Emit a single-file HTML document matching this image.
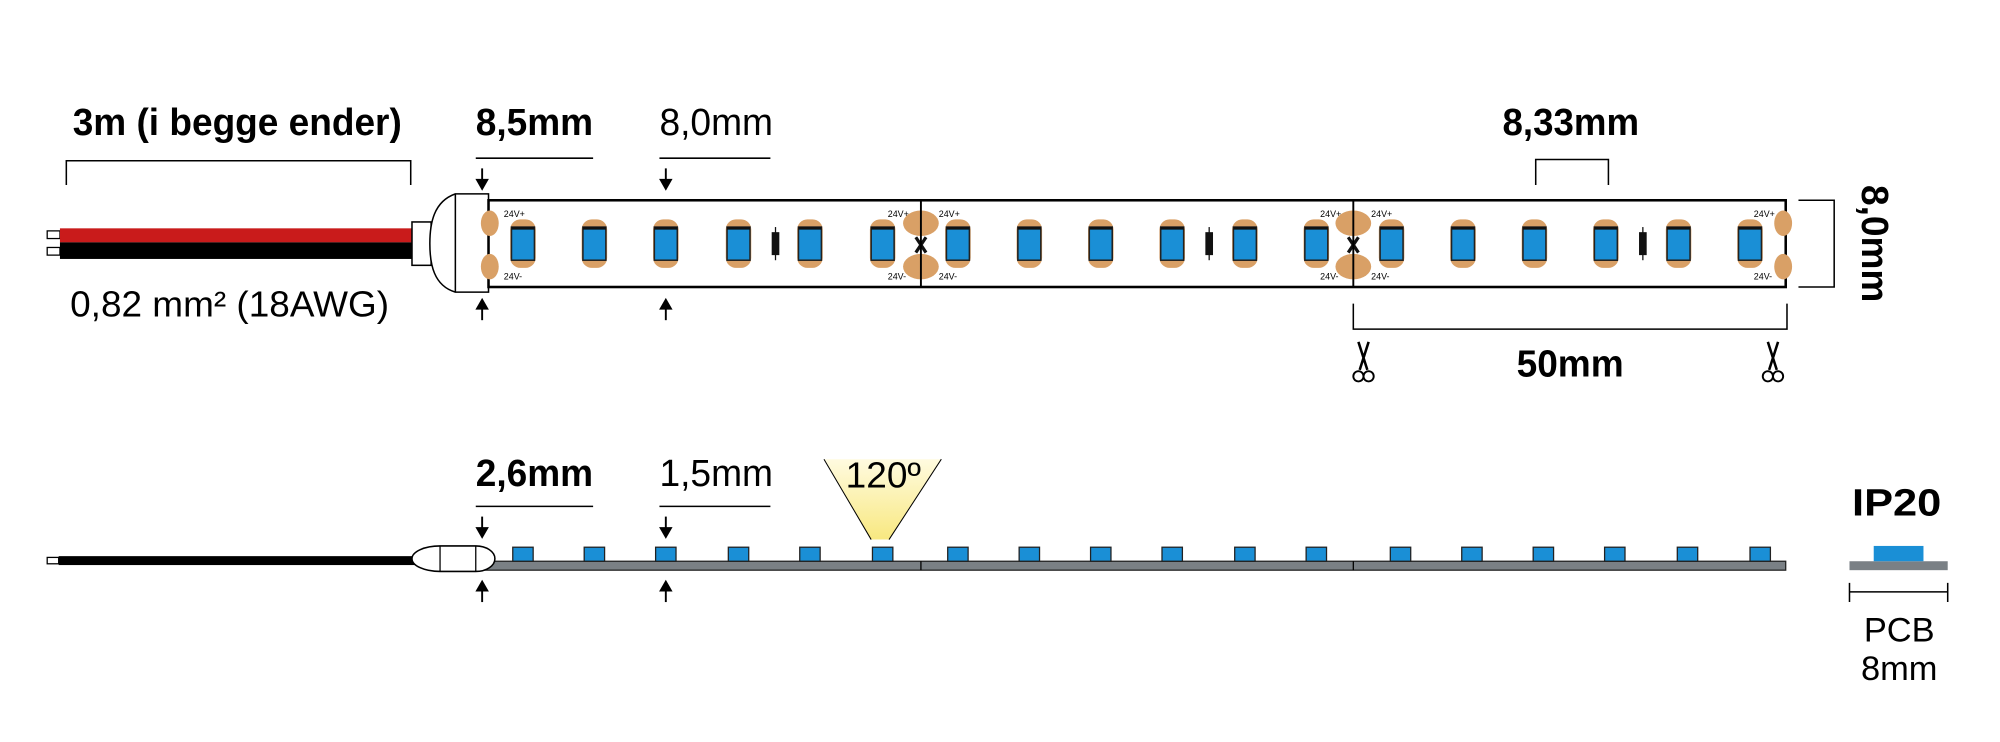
<!DOCTYPE html>
<html><head><meta charset="utf-8"><style>
html,body{margin:0;padding:0;background:#fff;}
svg{display:block;}
text{font-family:"Liberation Sans",sans-serif;fill:#000;}
.b{font-weight:bold;}
</style></head><body>
<svg width="2000" height="742" viewBox="0 0 1568 581.7" xmlns="http://www.w3.org/2000/svg">
<defs>
<g id="led">
<rect x="-10" y="172" width="20" height="38" rx="8" fill="#d9a066"/>
<rect x="-9" y="178" width="18" height="26" fill="#1a8fd6" stroke="#222" stroke-width="1.2"/>
<line x1="-9" y1="179" x2="9" y2="179" stroke="#111" stroke-width="2"/>
</g>
<g id="res">
<line x1="0" y1="178" x2="0" y2="204" stroke="#111" stroke-width="1"/>
<rect x="-3" y="182" width="6" height="18" fill="#111"/>
</g>
<g id="pads">
<ellipse cx="0" cy="175" rx="14" ry="10" fill="#d9a066"/>
<ellipse cx="0" cy="209" rx="14" ry="10" fill="#d9a066"/>
<text x="-26" y="170" font-size="7">24V+</text>
<text x="-26" y="219" font-size="7">24V-</text>
<text x="14" y="170" font-size="7">24V+</text>
<text x="14" y="219" font-size="7">24V-</text>
<path d="M-4,186 L4,198 M4,186 L-4,198" stroke="#111" stroke-width="2.5"/>
</g>
<g id="bled">
<rect x="-8" y="429" width="16" height="11" fill="#1a8fd6" stroke="#222" stroke-width="1"/>
</g>
<g id="sc">
<path d="M-4,0 L3,22 M4,0 L-3,22" stroke="#000" stroke-width="2" fill="none"/>
<circle cx="-4" cy="27" r="4" fill="none" stroke="#000" stroke-width="1.5"/>
<circle cx="4" cy="27" r="4" fill="none" stroke="#000" stroke-width="1.5"/>
</g>
<linearGradient id="yg" x1="0" y1="0" x2="0" y2="1">
<stop offset="0" stop-color="#fffbe0"/><stop offset="1" stop-color="#f8e880"/>
</linearGradient>
</defs>

<text x="57" y="106" font-size="30" class="b" textLength="258" lengthAdjust="spacingAndGlyphs">3m (i begge ender)</text>
<path d="M52,145 V126 H322 V145" fill="none" stroke="#000" stroke-width="1.2"/>
<text x="373" y="106" font-size="30" class="b" textLength="92" lengthAdjust="spacingAndGlyphs">8,5mm</text>
<line x1="373" y1="124" x2="465" y2="124" stroke="#000" stroke-width="1.2"/>
<text x="517" y="106" font-size="30" textLength="89" lengthAdjust="spacingAndGlyphs">8,0mm</text>
<line x1="517" y1="124" x2="604" y2="124" stroke="#000" stroke-width="1.2"/>
<text x="1178" y="106" font-size="30" class="b" textLength="107" lengthAdjust="spacingAndGlyphs">8,33mm</text>
<path d="M1204,145 V125 H1261 V145" fill="none" stroke="#000" stroke-width="1.2"/>
<text x="55" y="248" font-size="28" textLength="250" lengthAdjust="spacingAndGlyphs">0,82 mm² (18AWG)</text>

<g stroke="#000" stroke-width="1.5" fill="#000">
<line x1="378" y1="132" x2="378" y2="142"/><path d="M374,141 L382,141 L378,148Z"/>
<line x1="378" y1="241" x2="378" y2="251"/><path d="M374,242 L382,242 L378,235Z"/>
<line x1="522" y1="132" x2="522" y2="142"/><path d="M518,141 L526,141 L522,148Z"/>
<line x1="522" y1="241" x2="522" y2="251"/><path d="M518,242 L526,242 L522,235Z"/>
</g>

<rect x="37" y="181" width="10" height="6" fill="#fff" stroke="#000" stroke-width="1"/>
<rect x="37" y="194" width="10" height="6" fill="#fff" stroke="#000" stroke-width="1"/>
<rect x="47" y="179" width="276" height="11" fill="#c91b1b"/>
<rect x="47" y="190" width="276" height="13" fill="#000"/>
<rect x="323" y="174" width="15" height="34" fill="#fff" stroke="#000" stroke-width="1.2"/>
<path d="M383,152 H357 C340,158 337,175 337,191 C337,207 340,224 357,229 H383 Z" fill="#fff" stroke="#000" stroke-width="1.2"/>
<line x1="357" y1="152" x2="357" y2="229" stroke="#000" stroke-width="1.2"/>

<rect x="383" y="157" width="1017" height="68" fill="#fff" stroke="#000" stroke-width="2"/>
<ellipse cx="384" cy="175" rx="7" ry="10" fill="#d9a066"/>
<ellipse cx="384" cy="209" rx="7" ry="10" fill="#d9a066"/>
<text x="395" y="170" font-size="7">24V+</text><text x="395" y="219" font-size="7">24V-</text>
<ellipse cx="1398" cy="175" rx="7" ry="10" fill="#d9a066"/>
<ellipse cx="1398" cy="209" rx="7" ry="10" fill="#d9a066"/>
<text x="1375" y="170" font-size="7">24V+</text><text x="1375" y="219" font-size="7">24V-</text>
<use href="#pads" x="722"/><use href="#pads" x="1061"/>
<line x1="722" y1="157" x2="722" y2="225" stroke="#000" stroke-width="1.5"/>
<line x1="1061" y1="157" x2="1061" y2="225" stroke="#000" stroke-width="1.5"/>
<use href="#led" x="410"/><use href="#led" x="466"/><use href="#led" x="522"/><use href="#led" x="579"/><use href="#led" x="635"/><use href="#led" x="692"/>
<use href="#res" x="608"/>
<use href="#led" x="751"/><use href="#led" x="807"/><use href="#led" x="863"/><use href="#led" x="919"/><use href="#led" x="976"/><use href="#led" x="1032"/>
<use href="#res" x="948"/>
<use href="#led" x="1091"/><use href="#led" x="1147"/><use href="#led" x="1203"/><use href="#led" x="1259"/><use href="#led" x="1316"/><use href="#led" x="1372"/>
<use href="#res" x="1288"/>

<path d="M1410,157 H1438 V225 H1410" fill="none" stroke="#000" stroke-width="1.2"/>
<text transform="translate(1460,191) rotate(90)" font-size="30" class="b" text-anchor="middle" textLength="92" lengthAdjust="spacingAndGlyphs">8,0mm</text>

<path d="M1061,238 V258 H1401 V238" fill="none" stroke="#000" stroke-width="1.2"/>
<use href="#sc" x="1069" y="268"/><use href="#sc" x="1390" y="268"/>
<text x="1231" y="295" font-size="30" class="b" text-anchor="middle" textLength="84" lengthAdjust="spacingAndGlyphs">50mm</text>

<text x="373" y="381" font-size="30" class="b" textLength="92" lengthAdjust="spacingAndGlyphs">2,6mm</text>
<line x1="373" y1="397" x2="465" y2="397" stroke="#000" stroke-width="1.2"/>
<text x="517" y="381" font-size="30" textLength="89" lengthAdjust="spacingAndGlyphs">1,5mm</text>
<line x1="517" y1="397" x2="604" y2="397" stroke="#000" stroke-width="1.2"/>
<g stroke="#000" stroke-width="1.5" fill="#000">
<line x1="378" y1="405" x2="378" y2="415"/><path d="M374,414 L382,414 L378,421Z"/>
<line x1="378" y1="462" x2="378" y2="472"/><path d="M374,463 L382,463 L378,456Z"/>
<line x1="522" y1="405" x2="522" y2="415"/><path d="M518,414 L526,414 L522,421Z"/>
<line x1="522" y1="462" x2="522" y2="472"/><path d="M518,463 L526,463 L522,456Z"/>
</g>
<path d="M646,360 L738,360 L697,423 L683,423 Z" fill="url(#yg)"/>
<path d="M646,360 L683,423 M738,360 L697,423" stroke="#000" stroke-width="0.8"/>
<text x="663" y="382" font-size="28" textLength="59" lengthAdjust="spacingAndGlyphs">120º</text>

<rect x="37" y="437" width="9" height="5" fill="#fff" stroke="#000" stroke-width="1"/>
<rect x="46" y="436" width="282" height="7" fill="#000"/>
<rect x="378" y="440" width="1022" height="7" fill="#7a8085" stroke="#222" stroke-width="1"/>
<line x1="722" y1="440" x2="722" y2="447" stroke="#000" stroke-width="1"/>
<line x1="1061" y1="440" x2="1061" y2="447" stroke="#000" stroke-width="1"/>
<path d="M345,428 H373 A15,10 0 0 1 373,448 H345 A22,10 0 0 1 345,428 Z" fill="#fff" stroke="#000" stroke-width="1.2"/>
<path d="M345,428 V448 M373,428 V448" stroke="#000" stroke-width="1"/>
<use href="#bled" x="410"/><use href="#bled" x="466"/><use href="#bled" x="522"/><use href="#bled" x="579"/><use href="#bled" x="635"/><use href="#bled" x="692"/>
<use href="#bled" x="751"/><use href="#bled" x="807"/><use href="#bled" x="863"/><use href="#bled" x="919"/><use href="#bled" x="976"/><use href="#bled" x="1032"/>
<use href="#bled" x="1098"/><use href="#bled" x="1154"/><use href="#bled" x="1210"/><use href="#bled" x="1266"/><use href="#bled" x="1323"/><use href="#bled" x="1380"/>

<text x="1487" y="404" font-size="30" class="b" text-anchor="middle" textLength="70" lengthAdjust="spacingAndGlyphs">IP20</text>
<rect x="1450" y="440" width="77" height="7" fill="#7a8085"/>
<rect x="1469" y="428" width="39" height="12" fill="#1a8fd6"/>
<path d="M1450,457 V472 M1450,464 H1527 M1527,457 V472" stroke="#000" stroke-width="1.2"/>
<text x="1489" y="503" font-size="27" text-anchor="middle">PCB</text>
<text x="1489" y="533" font-size="27" text-anchor="middle">8mm</text>
</svg>
</body></html>
